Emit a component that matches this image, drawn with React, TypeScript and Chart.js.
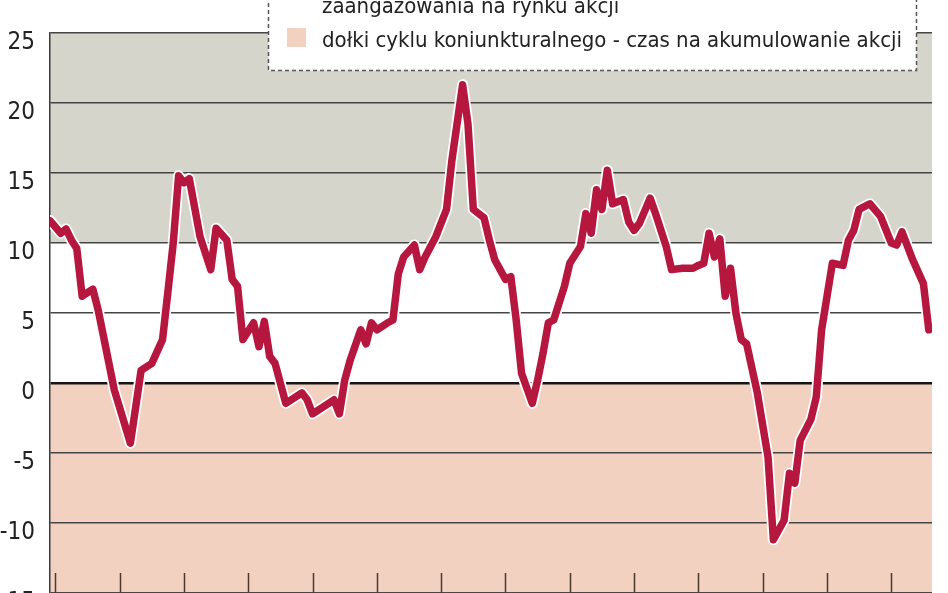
import React, { useEffect, useRef } from 'react';
import { Chart, registerables } from 'chart.js';

Chart.register(...registerables);

// month index (0 = first year tick) and indicator value (%)
const months = [
  -1, 1, 2, 3, 4, 5, 7, 8, 9, 11, 14, 16, 18, 20, 21, 22, 23, 24, 25, 27, 29, 30, 32, 33, 34, 35, 37, 38, 39, 40,
  41, 43, 44, 46, 47, 48, 50, 52, 53, 54, 55, 57, 58, 59, 60, 62, 63, 64, 65, 67, 68, 69, 71, 73, 74, 76, 77, 78,
  79, 80, 81, 82, 84, 85, 86, 87, 89, 90, 91, 92, 93, 95, 96, 98, 99, 100, 101, 102, 103, 104, 106, 107, 108, 109,
  111, 112, 114, 115, 117, 119, 120, 121, 122, 123, 124, 125, 126, 127, 128, 129, 131, 133, 134, 136, 137, 138,
  139, 141, 142, 143, 145, 147, 148, 149, 150, 152, 154, 156, 157, 158, 160, 162, 163,
];
const values = [
  11.6, 10.7, 11.0, 10.2, 9.6, 6.2, 6.7, 5.2, 3.3, -0.5, -4.3, 0.9, 1.4, 3.1, 6.5, 10.0, 14.8, 14.3, 14.6, 10.45,
  8.1, 11.05, 10.2, 7.4, 6.9, 3.1, 4.3, 2.6, 4.4, 1.9,
  1.4, -1.45, -1.2, -0.7, -1.2, -2.2, -1.7, -1.2, -2.2, 0.2, 1.6, 3.8, 2.8, 4.3, 3.8, 4.3, 4.5, 7.8, 9.0, 9.85, 8.1,
  9.0, 10.45, 12.4, 15.9, 21.3, 18.5, 12.4,
  12.1, 11.8, 10.2, 8.8, 7.4, 7.6, 4.5, 0.7, -1.45, 0.2, 2.1, 4.3, 4.5, 6.9, 8.55, 9.75, 12.1, 10.7, 13.8, 12.4,
  15.2, 12.8, 13.1, 11.5, 10.9, 11.4,
  13.2, 12.1, 9.75, 8.1, 8.2, 8.2, 8.4, 8.55, 10.7, 9.0, 10.3, 6.2, 8.2, 5.0, 3.1, 2.8, -0.7, -5.3, -11.2, -9.8,
  -6.45, -7.15,
  -4.1, -2.6, -1.0, 3.8, 8.55, 8.4, 10.2, 10.9, 12.4, 12.8, 11.9, 10.0, 9.85, 10.8, 8.8, 7.1, 3.8,
];

const yMin = -15;
const yMax = 25;
const yStep = 5;
const yearTickMonths = [0, 12, 24, 36, 48, 60, 72, 84, 96, 108, 120, 132, 144, 156];
const xMin = -1;
const xMax = 163.6;

// zone limits: below 0 = troughs, 0..10 neutral, above 10 = peaks
const bandEdges = [-15, 0, 10, 25];
const bandColors = ['#f3d1c0', '#ffffff', '#d5d5cb'];

const legendLines = [
  'zaangażowania na rynku akcji',
  'dołki cyklu koniunkturalnego - czas na akumulowanie akcji',
];

const FONT = '"Liberation Sans Narrow", "DejaVu Sans Condensed", "Liberation Sans", sans-serif';

const bandsPlugin = {
  id: 'bands',
  beforeDraw(chart: any) {
    const { ctx, chartArea: a, scales } = chart;
    const y = scales.y;
    ctx.save();
    for (let i = 0; i < bandEdges.length - 1; i++) {
      const top = y.getPixelForValue(bandEdges[i + 1]);
      const bot = y.getPixelForValue(bandEdges[i]);
      ctx.fillStyle = bandColors[i];
      ctx.fillRect(a.left, top, a.right - a.left, bot - top);
    }
    ctx.restore();
  },
};

const yearTicksPlugin = {
  id: 'yearTicks',
  beforeDatasetsDraw(chart: any) {
    const { ctx, chartArea: a, scales } = chart;
    const x = scales.x;
    ctx.save();
    ctx.strokeStyle = '#4a3a30';
    ctx.lineWidth = 1.5;
    ctx.beginPath();
    yearTickMonths.forEach((m) => {
      const px = Math.round(x.getPixelForValue(m)) + 0.5;
      ctx.moveTo(px, a.bottom);
      ctx.lineTo(px, a.bottom - 20);
    });
    ctx.stroke();
    ctx.restore();
  },
};

const legendPlugin = {
  id: 'boxLegend',
  afterDraw(chart: any) {
    const { ctx, chartArea: a } = chart;
    const top = a.top;
    ctx.save();
    const bx = 268.5;
    const bw = 916 - 268;
    const by = top - 80;
    const bh = 37.5 + 80;
    ctx.fillStyle = '#ffffff';
    ctx.fillRect(bx, by, bw, bh);
    ctx.setLineDash([4, 3]);
    ctx.strokeStyle = '#555';
    ctx.lineWidth = 1.5;
    ctx.strokeRect(bx, by, bw, bh);
    ctx.setLineDash([]);
    ctx.fillStyle = bandColors[0];
    ctx.fillRect(287, top - 5, 19, 19);
    ctx.fillStyle = '#222';
    ctx.font = `22px ${FONT}`;
    ctx.textBaseline = 'alphabetic';
    ctx.textAlign = 'left';
    const w = ctx.measureText(legendLines[1]).width;
    const sx = 580 / w;
    const baselines = [top - 20, top + 14];
    legendLines.forEach((t, i) => {
      ctx.save();
      ctx.translate(322, baselines[i]);
      ctx.scale(sx, 1);
      ctx.fillText(t, 0, 0);
      ctx.restore();
    });
    ctx.restore();
  },
};

export default function App() {
  const ref = useRef<HTMLCanvasElement>(null);

  useEffect(() => {
    const points = months.map((m, i) => ({ x: m, y: values[i] }));
    const chart = new Chart(ref.current as HTMLCanvasElement, {
      type: 'line',
      data: {
        datasets: [
          {
            data: points,
            borderColor: '#b5173f',
            borderWidth: 7.5,
            borderJoinStyle: 'round',
            borderCapStyle: 'round',
            pointRadius: 0,
            tension: 0,
            fill: false,
            order: 0,
          },
          {
            data: points,
            borderColor: '#ffffff',
            borderWidth: 11,
            borderJoinStyle: 'round',
            borderCapStyle: 'round',
            pointRadius: 0,
            tension: 0,
            fill: false,
            order: 1,
          },
        ],
      },
      options: {
        animation: false,
        responsive: true,
        maintainAspectRatio: false,
        layout: { padding: { top: 73, bottom: 40, left: 0, right: 16 } },
        plugins: { legend: { display: false }, tooltip: { enabled: false } },
        scales: {
          x: {
            type: 'linear',
            min: xMin,
            max: xMax,
            display: false,
          },
          y: {
            min: yMin,
            max: yMax,
            afterFit: (s: any) => {
              s.width = 50;
            },
            ticks: {
              stepSize: yStep,
              padding: 15,
              labelOffset: 10,
              color: '#222',
              font: { family: FONT, size: 24 },
            },
            grid: {
              drawTicks: false,
              color: (c: any) => (c.tick && c.tick.value === 0 ? '#151515' : '#454545'),
              lineWidth: (c: any) => (c.tick && c.tick.value === 0 ? 2.5 : 1.5),
            },
            border: { display: true, color: '#3a3a3a', width: 1.5 },
          },
        },
      },
      plugins: [bandsPlugin, yearTicksPlugin, legendPlugin],
    });
    return () => chart.destroy();
  }, []);

  return (
    <div
      style={{
        position: 'fixed',
        left: 0,
        top: 0,
        width: 948,
        height: 593,
        overflow: 'hidden',
        background: '#fff',
      }}
    >
      <div style={{ position: 'absolute', left: 0, top: -40, width: 948, height: 673 }}>
        <canvas ref={ref} />
      </div>
    </div>
  );
}
